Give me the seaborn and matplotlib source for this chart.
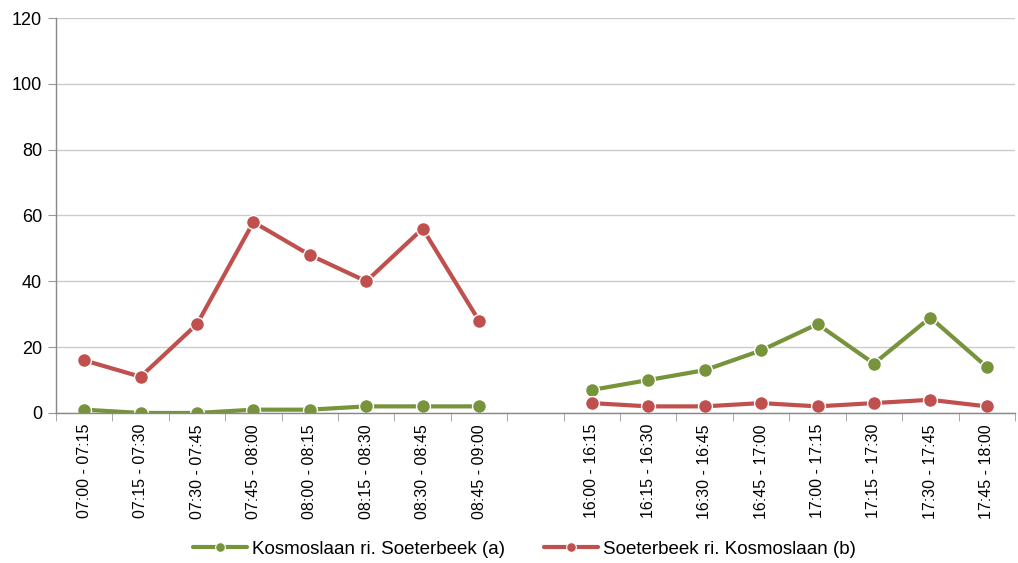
import matplotlib
matplotlib.use('Agg')
import matplotlib.pyplot as plt
import numpy as np
import pandas as pd
import seaborn as sns

# Data (blank slot between morning and evening)
periods = ['07:00 - 07:15', '07:15 - 07:30', '07:30 - 07:45', '07:45 - 08:00',
           '08:00 - 08:15', '08:15 - 08:30', '08:30 - 08:45', '08:45 - 09:00',
           '',
           '16:00 - 16:15', '16:15 - 16:30', '16:30 - 16:45', '16:45 - 17:00',
           '17:00 - 17:15', '17:15 - 17:30', '17:30 - 17:45', '17:45 - 18:00']
kosmo_a = [1, 0, 0, 1, 1, 2, 2, 2, np.nan, 7, 10, 13, 19, 27, 15, 29, 14]
soeter_b = [16, 11, 27, 58, 48, 40, 56, 28, np.nan, 3, 2, 2, 3, 2, 3, 4, 2]
series_names = ['Kosmoslaan ri. Soeterbeek (a)', 'Soeterbeek ri. Kosmoslaan (b)']
colors = ['#77933C', '#C0504D']

rows = []
for name, vals in zip(series_names, [kosmo_a, soeter_b]):
    for i, v in enumerate(vals):
        rows.append({'x': i, 'value': v, 'series': name,
                     'segment': 0 if i < 8 else 1})
df = pd.DataFrame(rows).dropna()

sns.set_style('white')
plt.rcParams['font.family'] = ['Liberation Sans', 'DejaVu Sans']
plt.rcParams['text.color'] = 'black'
plt.rcParams['xtick.color'] = 'black'
plt.rcParams['ytick.color'] = 'black'

fig = plt.figure(figsize=(10.18, 5.63), dpi=100)
ax = fig.add_axes([0.055, 0.2665, 0.942, 0.7015])

sns.lineplot(data=df, x='x', y='value', hue='series', units='segment',
             estimator=None, palette=colors, hue_order=series_names,
             marker='o', markersize=10, markeredgecolor='white',
             markeredgewidth=1, linewidth=3, ax=ax, legend=False)

ax.set_xlim(-0.5, len(periods) - 0.5)
ax.set_ylim(0, 120)
ax.set_yticks(range(0, 121, 20))
ax.yaxis.grid(True, color='#cccccc', linewidth=1)
ax.set_axisbelow(True)

ax.set_xticks(range(len(periods)))
ax.set_xticklabels(periods, rotation=90, fontsize=11.5)
ax.set_xticks(np.arange(-0.5, len(periods), 1), minor=True)
ax.tick_params(axis='x', which='major', length=0, pad=8)
ax.tick_params(axis='x', which='minor', length=6, color='#999999', direction='out', bottom=True)
ax.tick_params(axis='y', length=6, color='#999999', labelcolor='black', direction='out',
               left=True, labelsize=13, pad=4)
ax.set_xlabel('')
ax.set_ylabel('')

for s in ['top', 'right']:
    ax.spines[s].set_visible(False)
for s in ['left', 'bottom']:
    ax.spines[s].set_color('#888888')
    ax.spines[s].set_linewidth(1)

handles = [plt.Line2D([], [], color=c, linewidth=3, marker='o', markersize=7,
                      markeredgecolor='white', markeredgewidth=0.8) for c in colors]
fig.legend(handles, series_names, loc='center', bbox_to_anchor=(0.515, 0.024),
           ncol=2, frameon=False, fontsize=13.5, handlelength=2.9, columnspacing=2.1,
           handletextpad=0.25)

fig.savefig('out.png', dpi=100)
